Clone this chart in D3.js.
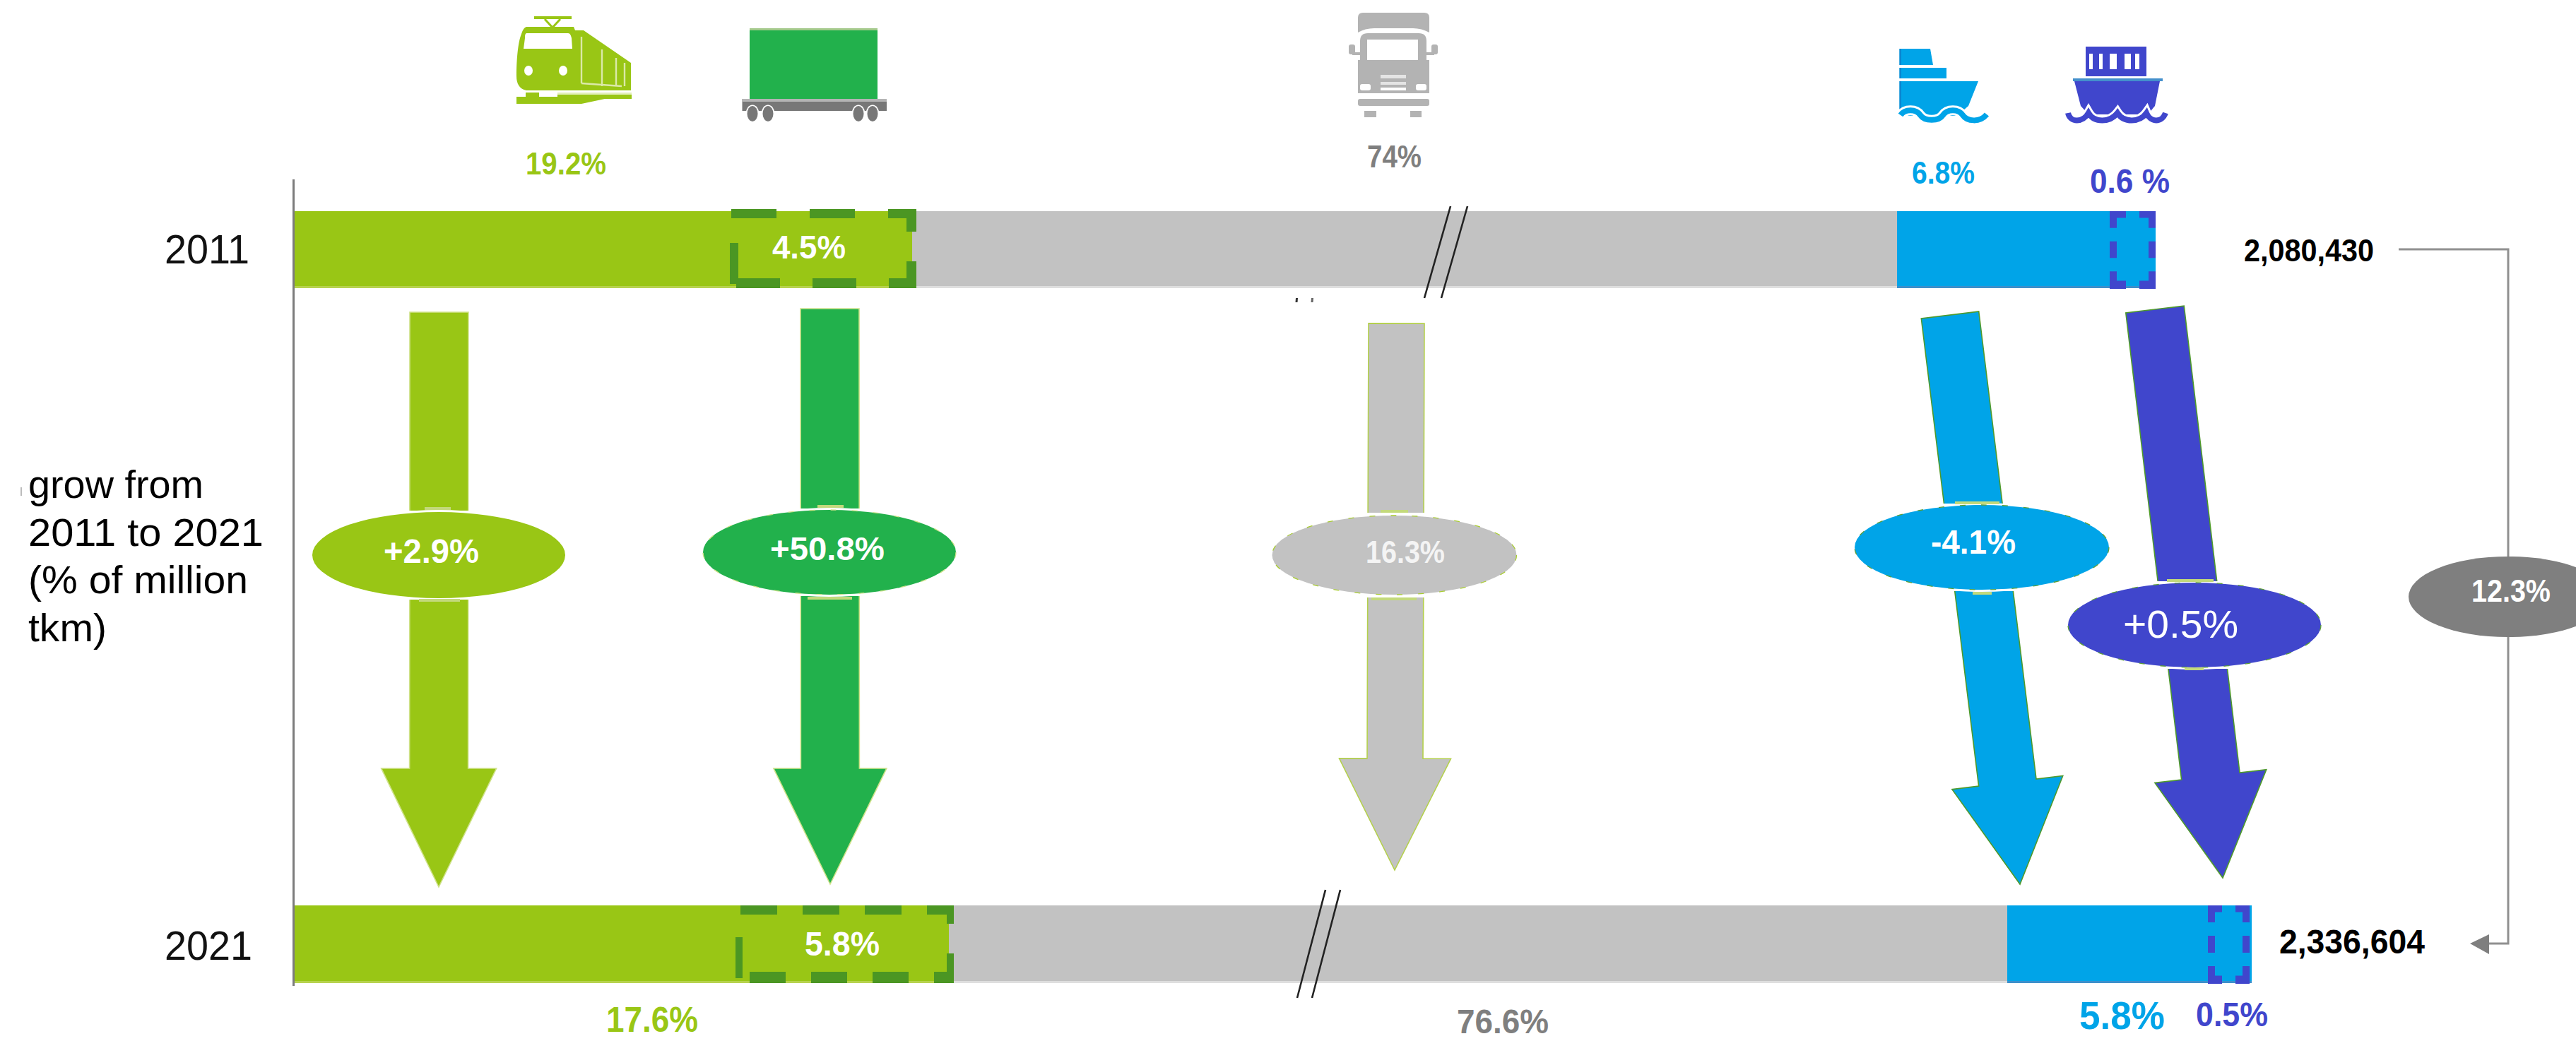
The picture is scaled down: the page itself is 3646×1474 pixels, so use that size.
<!DOCTYPE html>
<html>
<head>
<meta charset="utf-8">
<script src="https://cdnjs.cloudflare.com/ajax/libs/d3/7.8.5/d3.min.js"></script>
<style>html,body{margin:0;padding:0;background:#fff;overflow:hidden}svg{display:block}</style>
</head>
<body>
<svg id="c" width="3646" height="1474"></svg>
<script>
// ---- data ----
const years = ["2011", "2021"];
const modes = ["Rail", "Rail freight", "Road", "Sea", "Sea containers"];
const share2011 = [19.2, 4.5, 74, 6.8, 0.6];
const share2021 = [17.6, 5.8, 76.6, 5.8, 0.5];
const labels2011 = ["19.2%", "4.5%", "74%", "6.8%", "0.6 %"];
const labels2021 = ["17.6%", "5.8%", "76.6%", "5.8%", "0.5%"];
const growthLabels = ["+2.9%", "+50.8%", "16.3%", "-4.1%", "+0.5%"];
const totals = ["2,080,430", "2,336,604"];
const totalGrowth = "12.3%";
const sideText = ["grow from", "2011 to 2021", "(% of million", "tkm)"];

// ---- style and layout ----
const LIME = "#99C615", GREEN = "#22B14C", GREY = "#C2C2C2", BLUE = "#00A4E8", INDIGO = "#4046CC";
const DASHGREEN = "#4B9623", FONT = "'Liberation Sans', Arial, sans-serif";
const svg = d3.select("#c");

// The original bar has a broken axis, so each row gets its own piecewise scale.
function cuts(s) { return [0, s[0] - s[1], s[0], s[0] + s[2], 100 - s[4], 100]; }
const xScale = {
  "2011": d3.scaleLinear().domain(cuts(share2011)).range([417, 1033, 1291, 2685, 2986, 3051]),
  "2021": d3.scaleLinear().domain(cuts(share2021)).range([417, 1041, 1343, 2841, 3125, 3187])
};
const barTop = d3.scaleOrdinal().domain(years).range([299, 1282]);
const barH = d3.scaleOrdinal().domain(years).range([106, 107]);
const STRIP = 3;

function text(str, o) {
  return svg.append("text").text(str).attr("x", o.x).attr("y", o.y)
    .attr("textLength", o.w).attr("lengthAdjust", "spacingAndGlyphs")
    .attr("font-family", FONT).attr("font-size", o.s)
    .attr("font-weight", o.b === false ? 400 : 700).attr("fill", o.c);
}
function line(x1, y1, x2, y2, c, w) {
  return svg.append("line").attr("x1", x1).attr("y1", y1).attr("x2", x2).attr("y2", y2)
    .attr("stroke", c).attr("stroke-width", w);
}

// ---- axis ----
line(415.5, 254, 415.5, 1396, "#7c7c7c", 3);

// ---- bars ----
function bar(year, s) {
  const x = xScale[year];
  const segs = [
    { a: 0, b: s[0], c: LIME, strip: "#b6d24e" },
    { a: s[0], b: s[0] + s[2], c: GREY, strip: "#dedede" },
    { a: s[0] + s[2], b: 100, c: BLUE, strip: "#3c90cc" }
  ];
  const g = svg.append("g");
  g.selectAll(".seg").data(segs).join("rect").attr("class", "seg")
    .attr("x", d => x(d.a)).attr("width", d => x(d.b) - x(d.a))
    .attr("y", barTop(year)).attr("height", barH(year)).attr("fill", d => d.c);
  g.selectAll(".strip").data(segs).join("rect").attr("class", "strip")
    .attr("x", d => x(d.a)).attr("width", d => x(d.b) - x(d.a))
    .attr("y", barTop(year) + barH(year)).attr("height", STRIP).attr("fill", d => d.strip);
}
bar("2011", share2011);
bar("2021", share2021);

// ---- dashed inner boxes ----
function side(x1, y1, x2, y2, c, w, dash) {
  const l = line(x1, y1, x2, y2, c, w);
  if (dash) l.attr("stroke-dasharray", dash);
}
// 2011 rail freight
(function () {
  const x = xScale["2011"], x0 = x(share2011[0] - share2011[1]), x1 = x(share2011[0]) + 6;
  side(x0 + 2, 302.5, x1, 302.5, DASHGREEN, 13, "64 47");
  side(x0 + 9, 401, x1, 401, DASHGREEN, 14, "62 46");
  side(x1 - 7, 296, x1 - 7, 408, DASHGREEN, 14, "32 42 40");
  side(x0 + 6, 344, x0 + 6, 402, DASHGREEN, 12);
})();
// 2021 rail freight
(function () {
  const x = xScale["2021"], x0 = x(share2021[0] - share2021[1]), x1 = x(share2021[0]) + 7;
  side(x0 + 7, 1288.5, x1, 1288.5, DASHGREEN, 13, "52 36");
  side(x0 + 20, 1384, x1, 1384, DASHGREEN, 16, "51 36");
  side(x1 - 5, 1282, x1 - 5, 1392, DASHGREEN, 10, "26 42 42");
  side(x0 + 5, 1327, x0 + 5, 1385, DASHGREEN, 10);
})();
// sea containers, both years
function seaBox(x0, x1, y0, h, gaps) {
  const bot = y0 + h, t = 9.5, w = x1 - x0, d = (w - gaps) / 2;
  side(x0, y0 + t / 2, x1, y0 + t / 2, INDIGO, t, d + " " + gaps);
  side(x0, bot - t / 2, x1, bot - t / 2, INDIGO, t + 2, d + " " + gaps);
  const v = (h - 2 * 19) / 3;
  side(x0 + 5, y0, x0 + 5, bot, INDIGO, 10, v + " 19");
  side(x1 - 5, y0, x1 - 5, bot, INDIGO, 10, v + " 19");
}
seaBox(xScale["2011"](100 - share2011[4]), xScale["2011"](100), 299, 109, 19);
seaBox(xScale["2021"](100 - share2021[4]), xScale["2021"](100) - 3, 1282, 110, 19);

// ---- axis-break marks ----
[[2053, 292, 2016, 422], [2077, 292, 2040, 422], [1876, 1260, 1836, 1413], [1897, 1260, 1857, 1413]]
  .forEach(p => line(p[0], p[1], p[2], p[3], "#222", 2.6));
line(1835.5, 422, 1835, 428, "#333", 3);
line(1857.5, 422, 1857, 428, "#666", 3);
line(30, 690, 30, 702, "#bbb", 2);

// ---- arrows ----
const arrows = [
  { c: LIME, edge: "#cfe28a", from: [621.5, 442], tip: [621, 1256], sw: 83, hw: 163, hl: 168 },
  { c: GREEN, edge: "#cfe28a", from: [1174.5, 437], tip: [1175, 1252], sw: 83, hw: 160, hl: 164 },
  { c: GREY, edge: "#b4d04c", from: [1976.5, 458], tip: [1974, 1232], sw: 79, hw: 158, hl: 158 },
  { c: BLUE, edge: "#4f9a2c", from: [2760, 446], tip: [2859, 1252], sw: 82, hw: 158, hl: 145 },
  { c: INDIGO, edge: "#4f9a2c", from: [3050, 438], tip: [3146, 1243], sw: 83, hw: 159, hl: 145 }
];
const arrowPath = a => {
  const dx = a.tip[0] - a.from[0], dy = a.tip[1] - a.from[1], L = Math.hypot(dx, dy);
  const ux = dx / L, uy = dy / L, nx = -uy, ny = ux;
  const bx = a.tip[0] - ux * a.hl, by = a.tip[1] - uy * a.hl;
  const pts = [
    [a.from[0] + nx * a.sw / 2, a.from[1] + ny * a.sw / 2],
    [bx + nx * a.sw / 2, by + ny * a.sw / 2],
    [bx + nx * a.hw / 2, by + ny * a.hw / 2],
    a.tip,
    [bx - nx * a.hw / 2, by - ny * a.hw / 2],
    [bx - nx * a.sw / 2, by - ny * a.sw / 2],
    [a.from[0] - nx * a.sw / 2, a.from[1] - ny * a.sw / 2]
  ];
  return d3.line()(pts) + "Z";
};
svg.append("g").selectAll("path").data(arrows).join("path")
  .attr("d", arrowPath).attr("fill", d => d.c)
  .attr("stroke", d => d.edge).attr("stroke-width", 1.6);

// ---- growth ellipses ----
const ellipses = [
  { c: LIME, edge: "none", cx: 621, cy: 786, rx: 179, ry: 61, gap: 2 },
  { c: GREEN, edge: "#cfe28a", cx: 1174, cy: 782, rx: 179, ry: 60, gap: 2 },
  { c: GREY, edge: "#a8cc30", cx: 1973.5, cy: 786, rx: 173, ry: 56, gap: 4 },
  { c: BLUE, edge: "#5d9f36", cx: 2805, cy: 775, rx: 180, ry: 60, gap: 2 },
  { c: INDIGO, edge: "#5d9f36", cx: 3106, cy: 885, rx: 179, ry: 60, gap: 2 }
];
const eg = svg.append("g");
eg.selectAll(".halo").data(ellipses).join("ellipse").attr("class", "halo")
  .attr("cx", d => d.cx).attr("cy", d => d.cy).attr("rx", d => d.rx + 3).attr("ry", d => d.ry + 3)
  .attr("fill", "#fff");
// flat white cuts across each shaft, just above and below its ellipse
const shaftX = (a, y) => a.from[0] + (y - a.from[1]) * (a.tip[0] - a.from[0]) / (a.tip[1] - a.from[1]);
ellipses.forEach((e, i) => {
  const a = arrows[i];
  [e.cy - e.ry - e.gap, e.cy + e.ry - 12].forEach(y => {
    eg.append("rect").attr("x", shaftX(a, y) - a.sw / 2 - 5).attr("width", a.sw + 10)
      .attr("y", y).attr("height", e.gap + 12).attr("fill", "#fff");
  });
});
eg.selectAll(".el").data(ellipses).join("ellipse").attr("class", "el")
  .attr("cx", d => d.cx).attr("cy", d => d.cy).attr("rx", d => d.rx).attr("ry", d => d.ry)
  .attr("fill", d => d.c).attr("stroke", d => d.edge).attr("stroke-width", 1.3)
  .attr("stroke-dasharray", "8 22");
// small pale ticks where shafts meet the ellipses
[[601, 720, 638, 720], [1157, 717, 1194, 717], [1954, 724, 1993, 724], [2767, 712, 2830, 712], [3067, 822, 3133, 822],
 [593, 850, 651, 850], [1143, 847, 1206, 847], [1941, 848, 2005, 848], [2792, 840, 2819, 840], [3092, 947, 3119, 947]]
  .forEach(p => line(p[0], p[1], p[2], p[3], "#c3d97c", 4));

// ---- connector between totals ----
svg.append("path").attr("d", d3.line()([[3395, 353], [3550, 353], [3550, 1336], [3520, 1336]]))
  .attr("fill", "none").attr("stroke", "#909090").attr("stroke-width", 3);
svg.append("path").attr("d", d3.line()([[3496, 1336], [3523, 1323], [3523, 1351]]) + "Z").attr("fill", "#7f7f7f");
svg.append("ellipse").attr("cx", 3550).attr("cy", 845).attr("rx", 141).attr("ry", 57).attr("fill", "#7f7f7f");

// ---- text ----
const BK = "#000", GT = "#7f7f7f";
sideText.forEach((t, i) => {
  const p = [[40, 705, 248], [40, 773, 333], [40, 840, 311], [40, 908, 111]][i];
  text(t, { x: p[0], y: p[1], w: p[2], s: 56, b: false, c: BK });
});
text(years[0], { x: 233, y: 373, w: 120, s: 58, b: false, c: "#111" });
text(years[1], { x: 233, y: 1359, w: 124, s: 58, b: false, c: "#111" });

const topPos = [
  { x: 744, y: 247, w: 114, s: 45, c: LIME },
  { x: 1093, y: 366, w: 104, s: 46, c: "#fff" },
  { x: 1935, y: 237, w: 77, s: 45, c: GT },
  { x: 2706, y: 260, w: 89, s: 45, c: BLUE },
  { x: 2958, y: 273, w: 113, s: 49, c: INDIGO }
];
const bottomPos = [
  { x: 858, y: 1461, w: 130, s: 50, c: LIME },
  { x: 1139, y: 1353, w: 106, s: 49, c: "#fff" },
  { x: 2062, y: 1463, w: 130, s: 48, c: GT },
  { x: 2943, y: 1457, w: 121, s: 55, c: BLUE },
  { x: 3108, y: 1453, w: 102, s: 49, c: INDIGO }
];
labels2011.forEach((l, i) => text(l, topPos[i]));
labels2021.forEach((l, i) => text(l, bottomPos[i]));

text(totals[0], { x: 3176, y: 370, w: 184, s: 44, c: BK });
text(totals[1], { x: 3226, y: 1350, w: 206, s: 48, c: BK });

const growthPos = [
  { x: 543, y: 797, w: 135, s: 48, c: "#fff" },
  { x: 1090, y: 793, w: 162, s: 47, c: "#fff" },
  { x: 1933, y: 797, w: 112, s: 45, c: "#f4f4f4" },
  { x: 2733, y: 784, w: 120, s: 48, c: "#fff" },
  { x: 3005, y: 903, w: 163, s: 56, c: "#fff", b: false }
];
growthLabels.forEach((l, i) => text(l, growthPos[i]));
text(totalGrowth, { x: 3498, y: 852, w: 112, s: 45, c: "#fff" });

// ---- icons ----
const ic = svg.append("g");
const P = (d, f, extra) => { const p = ic.append("path").attr("d", d).attr("fill", f); if (extra) extra(p); return p; };
const R = (x, y, w, h, f, r) => ic.append("rect").attr("x", x).attr("y", y).attr("width", w).attr("height", h).attr("fill", f).attr("rx", r || 0);
const E = (cx, cy, rx, ry, f) => ic.append("ellipse").attr("cx", cx).attr("cy", cy).attr("rx", rx).attr("ry", ry).attr("fill", f);

// train
R(756, 23, 53, 4, LIME);
P("M771,27L782,39L793,27", "none", p => p.attr("stroke", LIME).attr("stroke-width", 3));
P("M745,38H812L814,43H826L893,89V128H745C735,126 731,118 731,108C731,85 733,60 738,48C740,42 742,39 745,38Z", LIME);
P("M745,47H804C807,47 808,50 809,54L810,69H741L743,54C743,50 743,48 745,47Z", "#fff");
E(748, 100, 6, 7, "#fff"); E(797, 100, 6, 7, "#fff");
[[823, 52, 118], [852, 70, 122], [872, 82, 122], [884, 89, 122]].forEach(v => line(v[0], v[1], v[0], v[2], "#dbe9a8", 2.4));
line(823, 118, 880, 122, "#dbe9a8", 2.4);
R(745, 131, 149, 3, "#e3efb9");
P("M731,137H744V131H763V137H789V134H894V140H856L823,147H731Z", LIME);
R(763, 131, 26, 6, "#fff");

// wagon
R(1061, 40, 181, 100, GREEN);
R(1061, 40, 181, 3, "#a3c98a");
R(1050.5, 140, 204.5, 17, "#777777");
R(1050.5, 140, 204.5, 4, "#b4b4b4");
[1065, 1087, 1215, 1235].forEach(cx => { E(cx, 161, 9.5, 12.5, "#fff"); E(cx, 161, 7.5, 11, "#777777"); });

// truck
const TR = "#B3B3B3";
P("M1922,25Q1922,18 1929,18H2016Q2023,18 2023,25V46Q2012,40 2000,40H1945Q1932,40 1922,46Z", TR);
P("M1925,85V58Q1925,47 1936,47H2008Q2019,47 2019,58V85H2023V132H1922V85Z", TR);
R(1935, 56, 72, 29, "#fff");
R(1909, 63, 9, 14, TR, 3); R(2026, 63, 9, 14, TR, 3);
R(1914, 74, 12, 4, TR); R(2018, 74, 12, 4, TR);
[[106, 5], [116, 4], [124, 4]].forEach(v => R(1954, v[0], 36, v[1], v[0] === 124 ? "#fff" : "#e4e4e4"));
R(1925, 119, 15, 9, "#fff", 3); R(2004, 119, 15, 9, "#fff", 3);
R(1922, 140, 101, 10, TR, 3);
R(1931, 157, 17, 9, TR); R(1996, 157, 16, 9, TR);

// cargo ship
const wave1 = "M2690,163C2696,154 2712,154 2718,163C2724,172 2744,172 2750,163C2756,154 2772,154 2778,163C2784,172 2802,174 2812,162";
P("M2688.5,69H2732L2736,92H2688.5Z", BLUE);
R(2688.5, 96, 66.5, 15, BLUE);
P("M2688.5,115H2800L2786,150L2770,164H2700L2688.5,158Z", BLUE);
R(2688.5, 69, 2.5, 23, "#0c86d0"); R(2688.5, 96, 2.5, 15, "#0c86d0"); R(2688.5, 115, 2.5, 40, "#0c86d0");
P(wave1, "none", p => p.attr("stroke", "#fff").attr("stroke-width", 14));
P(wave1, "none", p => p.attr("stroke", BLUE).attr("stroke-width", 8));

// container ship
const wave2 = "M2927,160C2930,174 2948,174 2956,160C2964,174 2986,174 2997,160C3006,174 3028,174 3038,160C3044,174 3060,174 3065,160";
R(2952, 66, 86, 42, INDIGO);
[[2957, 5], [2971, 5], [2986, 10], [3007, 9], [3022, 6]].forEach(v => R(v[0], 76, v[1], 22, "#fff"));
R(2934, 111, 127, 4, "#4490cc");
P("M2936,115H3057L3050,150L3040,162H2956L2945,150Z", INDIGO);
P(wave2, "none", p => p.attr("stroke", "#fff").attr("stroke-width", 14));
P(wave2, "none", p => p.attr("stroke", INDIGO).attr("stroke-width", 8));
</script>
</body>
</html>
